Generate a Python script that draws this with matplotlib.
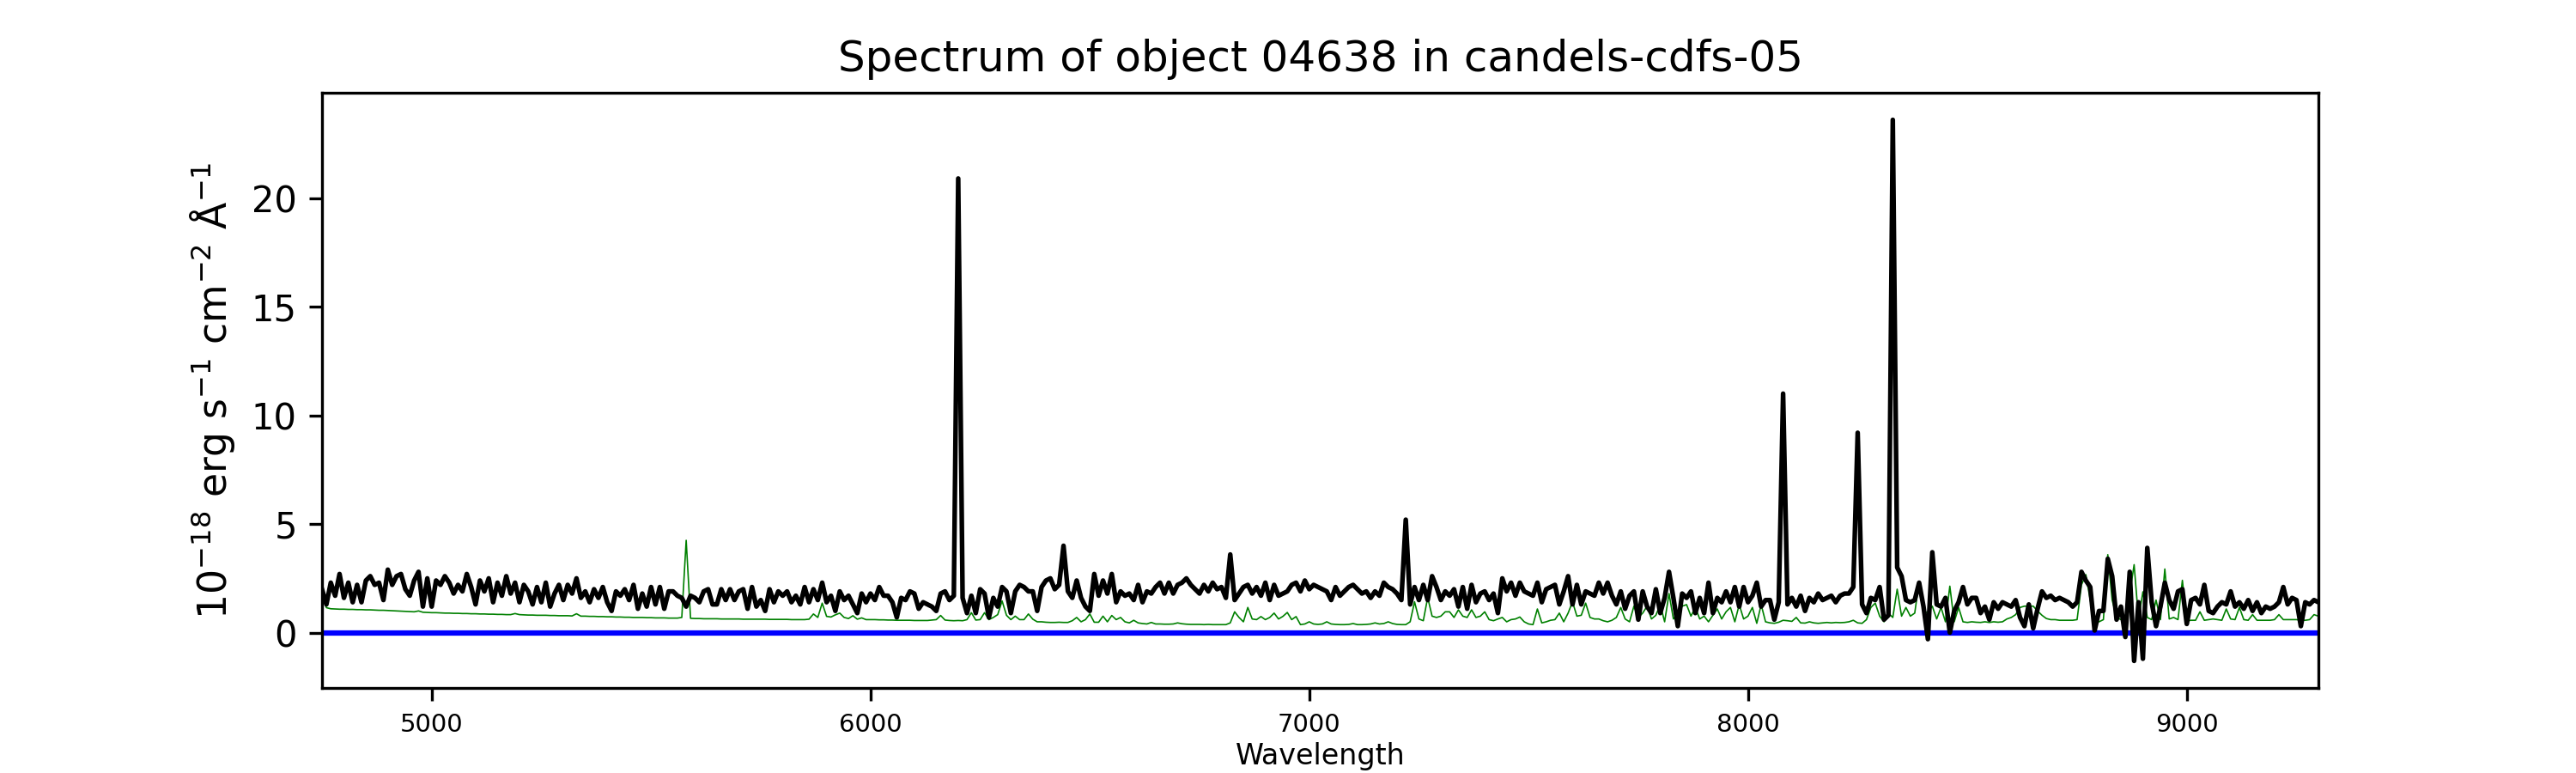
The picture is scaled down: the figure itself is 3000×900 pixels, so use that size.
import numpy as np
import matplotlib
matplotlib.use("Agg")
import matplotlib.pyplot as plt


object_id = "04638"
field = "candels-cdfs-05"

# wavelength grid of the extracted spectrum (Angstrom)
wave_start = 4750
wave_stop = 9300
wave_step = 10

# object flux, 10^-18 erg/s/cm2/A, one row per 100 A
flux = [
    2.0, 1.3, 2.3, 1.7, 2.7, 1.6, 2.3, 1.4, 2.2, 1.4,
    2.4, 2.6, 2.2, 2.3, 1.5, 2.9, 2.2, 2.6, 2.7, 2.0,
    1.7, 2.4, 2.8, 1.2, 2.5, 1.2, 2.4, 2.2, 2.6, 2.3,
    1.8, 2.2, 1.9, 2.7, 2.1, 1.3, 2.4, 1.9, 2.5, 1.4,
    2.3, 1.7, 2.6, 1.8, 2.3, 1.4, 2.2, 1.9, 1.3, 2.1,
    1.4, 2.3, 1.2, 1.8, 2.2, 1.5, 2.2, 1.8, 2.5, 1.6,
    1.9, 1.4, 2.0, 1.6, 2.1, 1.4, 1.0, 1.9, 1.7, 2.0,
    1.5, 2.2, 1.1, 1.8, 1.2, 2.1, 1.3, 2.1, 1.1, 1.9,
    1.9, 1.7, 1.6, 1.2, 1.7, 1.6, 1.4, 1.9, 2.0, 1.3,
    1.3, 2.0, 1.5, 2.0, 1.5, 1.9, 2.0, 1.1, 2.1, 1.2,
    1.5, 1.0, 2.0, 1.4, 1.9, 1.7, 1.9, 1.4, 1.7, 1.3,
    2.1, 1.4, 2.0, 1.5, 2.3, 1.4, 1.7, 1.0, 1.9, 1.5,
    1.7, 1.3, 0.9, 1.8, 1.4, 1.8, 1.5, 2.1, 1.7, 1.7,
    1.4, 0.7, 1.6, 1.5, 1.9, 1.8, 1.1, 1.4, 1.3, 1.2,
    1.0, 1.8, 1.9, 1.5, 1.7, 20.9, 1.6, 0.9, 1.7, 0.9,
    2.0, 1.8, 0.7, 1.6, 1.2, 2.1, 1.9, 0.9, 1.9, 2.2,
    2.1, 1.9, 1.9, 1.0, 2.1, 2.4, 2.5, 2.0, 2.2, 4.0,
    1.9, 1.6, 2.4, 1.6, 1.2, 1.0, 2.7, 1.7, 2.4, 1.8,
    2.7, 1.4, 1.9, 1.7, 1.8, 1.5, 2.2, 1.4, 1.9, 1.8,
    2.1, 2.3, 1.8, 2.3, 1.8, 2.2, 2.3, 2.5, 2.2, 2.0,
    1.8, 2.2, 1.9, 2.3, 2.0, 2.1, 1.6, 3.6, 1.5, 1.8,
    2.1, 2.2, 1.8, 2.1, 1.7, 2.3, 1.5, 2.2, 1.7, 1.8,
    1.9, 2.2, 2.3, 1.9, 2.4, 2.0, 2.2, 2.1, 2.0, 1.9,
    1.5, 2.1, 1.7, 1.9, 2.1, 2.2, 2.0, 1.8, 1.9, 1.6,
    1.9, 1.7, 2.3, 2.1, 2.0, 1.8, 1.5, 5.2, 1.3, 2.1,
    1.5, 2.2, 1.5, 2.6, 2.1, 1.5, 1.9, 1.7, 2.0, 1.2,
    2.1, 1.1, 2.2, 1.4, 1.8, 1.9, 1.5, 1.8, 0.9, 2.5,
    1.9, 2.3, 1.7, 2.3, 1.9, 1.8, 1.7, 2.3, 1.4, 2.0,
    2.1, 2.2, 1.3, 1.9, 2.6, 1.3, 2.2, 1.3, 1.9, 1.8,
    1.7, 2.3, 1.8, 2.3, 1.7, 1.3, 1.9, 1.1, 1.7, 1.9,
    0.6, 1.9, 1.2, 0.9, 2.0, 0.9, 1.6, 2.8, 1.6, 0.3,
    1.8, 1.6, 1.9, 0.9, 1.6, 0.9, 2.3, 0.9, 1.6, 1.4,
    1.9, 1.4, 2.1, 1.2, 2.1, 1.4, 1.7, 2.3, 1.2, 1.5,
    1.5, 0.6, 1.4, 11.0, 1.3, 1.6, 1.2, 1.7, 1.0, 1.6,
    1.4, 1.8, 1.5, 1.6, 1.7, 1.4, 1.7, 1.8, 1.8, 2.1,
    9.2, 1.3, 0.9, 1.6, 1.5, 2.1, 0.6, 0.8, 23.6, 3.0,
    2.6, 1.5, 1.4, 1.5, 2.3, 1.2, -0.3, 3.7, 1.3, 1.2,
    1.6, 0.0, 1.0, 1.4, 2.1, 1.3, 1.6, 1.6, 0.9, 1.2,
    0.6, 1.4, 1.1, 1.4, 1.3, 1.2, 1.5, 0.7, 0.3, 1.3,
    0.2, 1.1, 1.9, 1.6, 1.7, 1.5, 1.6, 1.5, 1.4, 1.2,
    1.4, 2.8, 2.4, 2.1, 0.1, 1.0, 1.0, 3.4, 2.6, 0.6,
    1.2, -0.2, 2.8, -1.3, 1.4, -1.2, 3.9, 1.4, 0.3, 1.2,
    2.3, 1.5, 1.1, 1.9, 2.0, 0.4, 1.5, 1.6, 1.3, 2.2,
    1.0, 0.9, 1.2, 1.4, 1.3, 1.9, 1.2, 1.4, 1.1, 1.5,
    1.0, 1.4, 0.9, 1.2, 1.1, 1.2, 1.4, 2.1, 1.3, 1.6,
    1.5, 0.3, 1.4, 1.3, 1.5, 1.4,
]

# noise / sky spectrum on the same grid
sky = [
    1.70, 1.15, 1.10, 1.09, 1.08, 1.08, 1.07, 1.07, 1.06, 1.06,
    1.05, 1.05, 1.04, 1.03, 1.03, 1.02, 1.01, 1.00, 0.99, 0.98,
    0.97, 0.96, 1.00, 0.94, 0.93, 0.92, 0.92, 0.91, 0.90, 0.90,
    0.89, 0.89, 0.88, 0.88, 0.87, 0.87, 0.86, 0.86, 0.85, 0.85,
    0.84, 0.84, 0.83, 0.83, 0.88, 0.83, 0.82, 0.81, 0.81, 0.80,
    0.80, 0.80, 0.79, 0.79, 0.78, 0.78, 0.78, 0.77, 0.87, 0.76,
    0.76, 0.75, 0.75, 0.74, 0.74, 0.73, 0.73, 0.72, 0.72, 0.71,
    0.71, 0.70, 0.70, 0.70, 0.69, 0.69, 0.68, 0.68, 0.68, 0.67,
    0.67, 0.67, 0.70, 4.25, 0.66, 0.65, 0.65, 0.64, 0.64, 0.64,
    0.64, 0.63, 0.63, 0.63, 0.63, 0.63, 0.62, 0.62, 0.62, 0.62,
    0.62, 0.62, 0.61, 0.61, 0.61, 0.61, 0.61, 0.60, 0.60, 0.60,
    0.60, 0.62, 0.86, 0.70, 1.36, 0.75, 0.72, 0.82, 0.90, 0.70,
    0.65, 0.78, 0.62, 0.68, 0.60, 0.60, 0.60, 0.59, 0.59, 0.58,
    0.58, 0.57, 0.57, 0.57, 0.57, 0.56, 0.56, 0.56, 0.56, 0.58,
    0.60, 0.79, 0.58, 0.56, 0.55, 0.56, 0.55, 0.60, 0.92, 0.58,
    0.60, 0.92, 0.60, 0.70, 0.83, 1.46, 0.80, 0.60, 0.76, 0.60,
    0.60, 0.86, 0.62, 0.50, 0.50, 0.48, 0.47, 0.47, 0.48, 0.47,
    0.47, 0.55, 0.70, 0.50, 0.60, 0.86, 0.48, 0.48, 0.76, 0.50,
    0.79, 0.60, 0.70, 0.50, 0.45, 0.57, 0.45, 0.42, 0.40, 0.47,
    0.40, 0.40, 0.39, 0.39, 0.40, 0.45, 0.41, 0.39, 0.38, 0.38,
    0.38, 0.37, 0.38, 0.37, 0.37, 0.37, 0.37, 0.45, 0.96, 0.70,
    0.50, 1.16, 0.63, 0.60, 0.74, 0.60, 0.70, 0.90, 0.63, 0.75,
    0.93, 0.60, 0.74, 0.37, 0.40, 0.50, 0.40, 0.38, 0.40, 0.50,
    0.40, 0.38, 0.37, 0.37, 0.38, 0.42, 0.37, 0.37, 0.38, 0.40,
    0.45, 0.40, 0.42, 0.50, 0.42, 0.38, 0.37, 0.37, 0.50, 1.42,
    0.63, 0.55, 1.62, 0.76, 0.70, 0.76, 0.96, 0.96, 0.70, 1.05,
    0.76, 0.70, 1.05, 0.70, 0.76, 0.96, 0.60, 0.55, 0.63, 0.70,
    0.50, 0.60, 0.63, 0.72, 0.50, 0.40, 0.37, 1.09, 0.45, 0.50,
    0.57, 0.60, 0.90, 0.50, 0.90, 1.42, 0.76, 0.80, 1.36, 0.70,
    0.63, 0.63, 0.55, 0.50, 0.57, 0.70, 1.16, 0.63, 0.50, 1.22,
    0.70, 0.90, 1.22, 0.63, 0.80, 1.29, 0.50, 1.80, 0.63, 0.90,
    1.22, 1.29, 0.76, 1.16, 0.63, 0.76, 0.50, 0.80, 1.09, 0.63,
    0.96, 1.16, 0.50, 1.29, 0.63, 0.76, 1.16, 0.43, 1.29, 0.50,
    0.45, 0.43, 0.48, 0.57, 0.55, 0.52, 0.70, 0.45, 0.44, 0.50,
    0.45, 0.43, 0.45, 0.47, 0.45, 0.47, 0.46, 0.47, 0.50, 0.57,
    0.45, 0.43, 0.60, 1.16, 1.36, 0.76, 0.50, 0.90, 0.70, 2.00,
    0.76, 1.16, 0.76, 0.90, 2.35, 0.90, 0.96, 1.22, 0.63, 1.16,
    0.50, 2.14, 0.50, 1.16, 0.50, 0.47, 0.50, 0.48, 0.47, 0.50,
    0.47, 0.50, 0.48, 0.50, 0.63, 0.70, 0.83, 1.16, 1.22, 1.22,
    1.22, 1.00, 0.80, 0.65, 0.60, 0.60, 0.57, 0.57, 0.57, 0.57,
    0.60, 2.20, 2.67, 1.50, 0.60, 0.50, 0.60, 3.59, 1.50, 0.70,
    0.60, 0.60, 1.80, 3.13, 0.63, 1.88, 0.70, 0.60, 1.50, 0.60,
    2.93, 0.63, 0.70, 0.60, 2.41, 0.55, 0.57, 0.57, 0.96, 0.57,
    0.60, 0.63, 0.60, 0.57, 1.09, 0.63, 0.60, 1.16, 0.60, 0.57,
    0.83, 0.57, 0.57, 0.57, 0.57, 0.60, 0.83, 0.60, 0.60, 0.60,
    0.60, 0.57, 0.57, 0.60, 0.83, 0.76,
]

wave = np.arange(wave_start, wave_stop + 1, wave_step)

fig = plt.figure(figsize=(10, 3), dpi=300)
plt.axhline(0, color="b", lw=1.5, zorder=1)
plt.plot(wave, sky, color="g", lw=0.4, zorder=2)
plt.plot(wave, flux, color="k", lw=1.3, zorder=3)

plt.xlim(wave_start, wave_stop)
plt.title("Spectrum of object %s in %s" % (object_id, field), fontsize=12)
plt.xlabel("Wavelength", fontsize=8, labelpad=1.5)
plt.ylabel("$10^{-18}$ erg s$^{-1}$ cm$^{-2}$ Å$^{-1}$", fontsize=11)
plt.xticks(fontsize=7)
plt.yticks(fontsize=10)

plt.savefig("out.png", dpi=300)
